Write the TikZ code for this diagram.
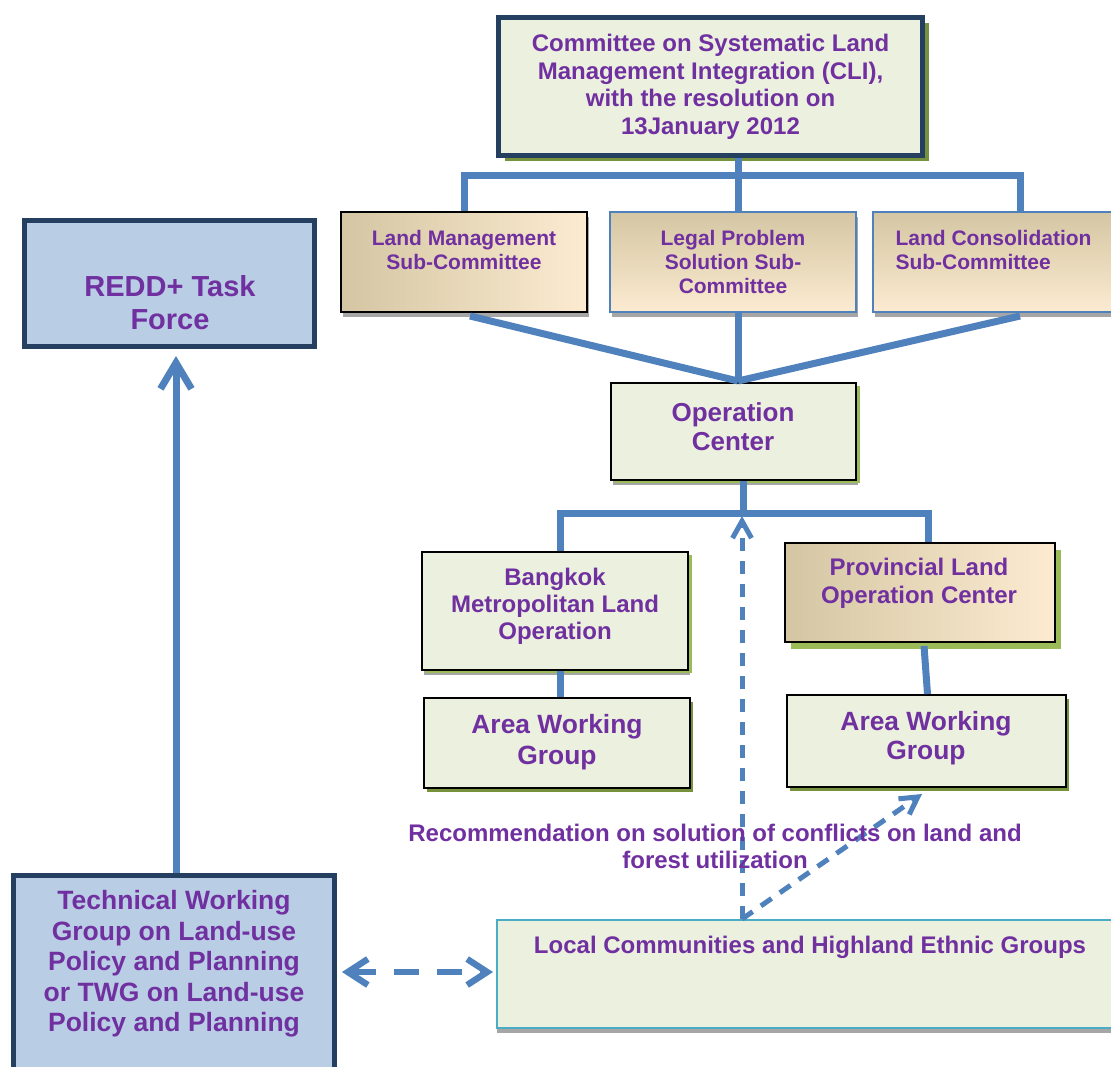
\documentclass[tikz,border=0pt]{standalone}
\usepackage{fontspec}
\setmainfont{Liberation Sans}
\usetikzlibrary{arrows.meta,calc,shadows}
\definecolor{purp}{HTML}{7030A0}
\definecolor{lnblue}{HTML}{4F81BD}
\definecolor{navy}{HTML}{243F60}
\definecolor{lgreen}{HTML}{EBF1DE}
\definecolor{lblue}{HTML}{B9CDE5}
\definecolor{olivesh}{HTML}{76923C}
\definecolor{grnsh}{HTML}{9BBB59}
\definecolor{tanD}{HTML}{D4C6A3}
\definecolor{tanM}{HTML}{F0E7D0}
\definecolor{cream}{HTML}{FCEBD1}
\definecolor{tealb}{HTML}{4BACC6}
\definecolor{shgrey}{HTML}{A6A6A6}
\tikzset{
  box/.style={draw, rectangle, inner sep=0pt, anchor=center},
  thinbox/.style={box, line width=1pt, draw=black},
  navybox/.style={box, line width=2.5pt, draw=navy, fill=lblue},
  greyshadow/.style={drop shadow={fill=shgrey, opacity=1, shadow xshift=1pt, shadow yshift=-2.5pt}},
  greenshadow/.style={drop shadow={fill=grnsh, opacity=1, shadow xshift=2pt, shadow yshift=-1.5pt}},
  oliveshadow/.style={drop shadow={fill=olivesh, opacity=1, shadow xshift=1.5pt, shadow yshift=-2pt}},
  tanlr/.style={left color=tanD, middle color=tanM, right color=cream},
  tantb/.style={top color=tanD, middle color=tanM, bottom color=cream},
  txt/.style={text=purp, align=center, inner sep=0pt, anchor=center},
  conn/.style={draw=lnblue, line width=3.5pt},
  dshv/.style={draw=lnblue, line width=2.5pt, dash pattern=on 6.5pt off 5pt},
  dshh/.style={draw=lnblue, line width=3.2pt, dash pattern=on 12.5pt off 9pt},
  barb/.style={-{Straight Barb[length=#1, width=#1*1.1]}},
}
\newcommand{\fsz}[2]{\fontsize{#1}{#2}\selectfont\bfseries}
\begin{document}
\begin{tikzpicture}[x=0.5pt, y={(0pt,-0.5pt)}]
\useasboundingbox (0,0) rectangle (1111,1066);
\fill[white] (0,0) rectangle (1111,1066);
\clip (0,0) rectangle (1111,1066);

% ---------- boxes ----------
\node[box, line width=2.5pt, draw=navy, fill=lgreen, minimum width=212pt, minimum height=69pt,
  drop shadow={fill=olivesh, opacity=1, shadow xshift=3pt, shadow yshift=-2.5pt}] (cli) at (710.5,86.5) {};
\node[thinbox, tanlr, greyshadow, minimum width=123pt, minimum height=50pt] (lm) at (464,262) {};
\node[thinbox, draw=lnblue, tantb, greyshadow, minimum width=123pt, minimum height=50pt] (lp) at (733,262) {};
\node[thinbox, draw=lnblue, tantb, greyshadow, minimum width=120pt, minimum height=50pt] (lc) at (993,262) {};
\node[thinbox, fill=lgreen, greyshadow, greenshadow, minimum width=122.5pt, minimum height=48.5pt] (oc) at (733.5,431.5) {};
\node[thinbox, fill=lgreen, greyshadow, greenshadow, minimum width=133pt, minimum height=59pt] (bk) at (555,611) {};
\node[thinbox, fill=lgreen, oliveshadow, minimum width=133pt, minimum height=45pt] (awl) at (557,743) {};
\node[thinbox, tanlr, drop shadow={fill=grnsh, opacity=1, shadow xshift=3pt, shadow yshift=-3.5pt}, minimum width=135pt, minimum height=49.5pt] (pv) at (920,592.5) {};
\node[thinbox, fill=lgreen, oliveshadow, minimum width=139.5pt, minimum height=46pt] (awr) at (926.5,741) {};
\node[thinbox, draw=tealb, fill=lgreen, drop shadow={fill=shgrey, opacity=1, shadow xshift=0pt, shadow yshift=-2.5pt}, minimum width=313pt, minimum height=54pt] (lcg) at (810,974) {};
\node[navybox, minimum width=145pt, minimum height=63pt] (redd) at (169.5,283.5) {};
\node[navybox, minimum width=160.5pt, minimum height=102.5pt] (twg) at (174,977.5) {};

% ---------- connectors ----------
\coordinate (b1) at (738,175);
\coordinate (lcx) at (1020,175);
\coordinate (oci) at (738,381);
\coordinate (b2) at (743,513);
\coordinate (bkx) at (560,513);
\coordinate (pvx) at (928,513);
\coordinate (ra) at (176,0);
\coordinate (dv) at (742,0);
\coordinate (dd) at (922,794);
\coordinate (hy) at (0,972);

\draw[conn] (cli.south -| b1) -- (b1);
\draw[conn] (lm.north) |- (lcx) -- (lcx |- lc.north);
\draw[conn] (b1) -- (b1 |- lp.north);
\draw[conn] ($(lm.south)+(6,3)$) -- (oci);
\draw[conn] (b1 |- lp.south) -- (oci);
\draw[conn] ($(lcx |- lc.south)+(0,3)$) -- (oci);
\draw[conn] (oc.south -| b2) -- (b2);
\draw[conn] (bkx |- bk.north) |- (pvx) -- (pvx |- pv.north);
\draw[conn] (bkx |- bk.south) -- (bkx |- awl.north);
\draw[conn] ($(pv.south)+(4,3)$) -- ($(awr.north)+(1,0)$);

\draw[conn, -{Straight Barb[length=13pt, width=15.5pt]}] (ra |- twg.north) -- ($(ra |- redd.south)+(0,7)$);

\draw[dshv, -{Straight Barb[length=8.5pt, width=9.5pt]}] (dv |- lcg.north) -- ($(dv |- b2)+(0,3)$);
\draw[dshv, -{Straight Barb[length=8.5pt, width=9.5pt]}] (dv |- lcg.north) -- (dd);
\draw[dshh, {Straight Barb[length=10pt, width=13pt]}-{Straight Barb[length=10pt, width=13pt]}]
  ($(twg.east |- hy)+(5,0)$) -- ($(lcg.west |- hy)+(-3,0)$);

% ---------- texts ----------
\node[txt, font=\fsz{12}{13.75}] (cli-t) at (710.5,87) {Committee on Systematic Land\\Management Integration (CLI),\\with the resolution on\\13January 2012};
\node[txt, font=\fsz{10.5}{12}] (lm-t) at (464,249.5) {Land Management\\Sub-Committee};
\node[txt, font=\fsz{10.5}{12}] (lp-t) at (733,262) {Legal Problem\\Solution Sub-\\Committee};
\node[txt, font=\fsz{10.5}{12}, align=left] (lc-t) at (993.5,249.5) {Land Consolidation\\Sub-Committee};
\node[txt, font=\fsz{13}{14.5}] (oc-t) at (733,426.5) {Operation\\Center};
\node[txt, font=\fsz{12}{13.5}] (bk-t) at (555,606) {Bangkok\\Metropolitan Land\\Operation};
\node[txt, font=\fsz{13.2}{15.5}] (awl-t) at (557,742.5) {Area Working\\Group};
\node[txt, font=\fsz{12}{14}] (pv-t) at (919,583) {Provincial Land\\Operation Center};
\node[txt, font=\fsz{13.2}{14.5}] (awr-t) at (926,738.5) {Area Working\\Group};
\node[txt, font=\fsz{12}{13.5}] (lcg-t) at (810,947) {Local Communities and Highland Ethnic Groups};
\node[txt, font=\fsz{14.5}{16.5}] (redd-t) at (170,302.5) {REDD+ Task\\Force};
\node[txt, font=\fsz{13.25}{15.25}] (twg-t) at (174,964) {Technical Working\\Group on Land-use\\Policy and Planning\\or TWG on Land-use\\Policy and Planning};
\node[txt, font=\fsz{12}{13.5}] (rec-t) at (715,846.5) {Recommendation on solution of conflicts on land and\\forest utilization};
\end{tikzpicture}
\end{document}
